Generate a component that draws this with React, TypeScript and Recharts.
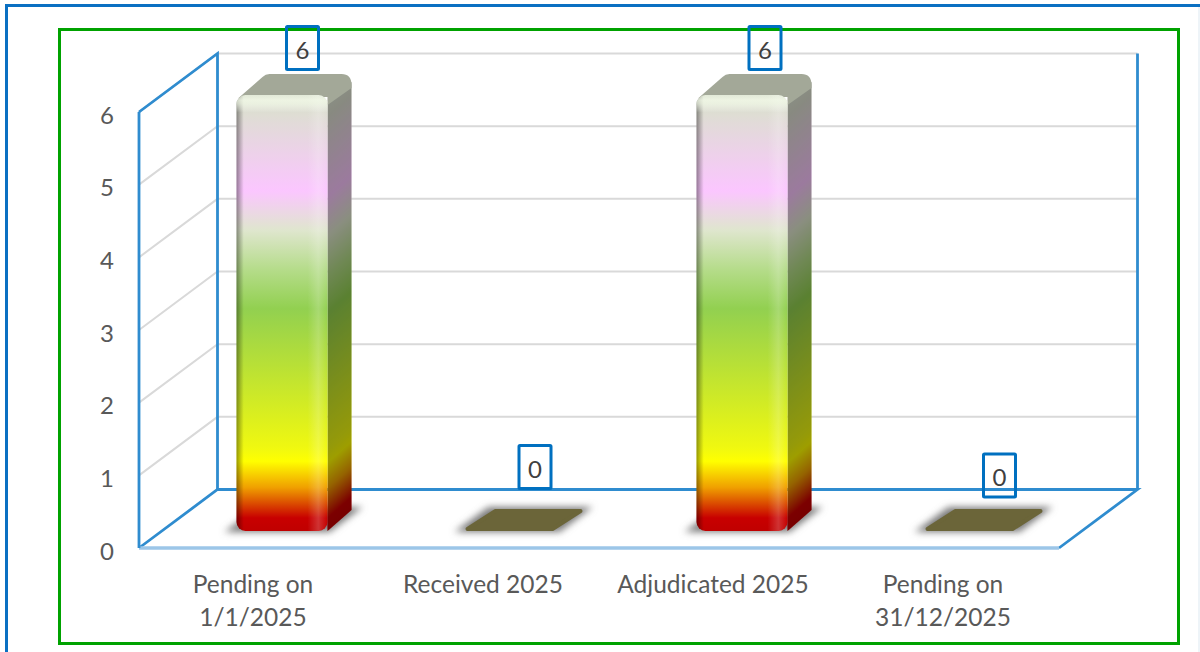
import React from "react";
import {
  Bar,
  CartesianGrid,
  ComposedChart,
  LabelList,
  XAxis,
  YAxis,
} from "recharts";

// Case counts per stage
const categories = [
  "Pending on\n1/1/2025",
  "Received 2025",
  "Adjudicated 2025",
  "Pending on\n31/12/2025",
];
const caseCounts = [6, 0, 6, 0];
const yTicks = [0, 1, 2, 3, 4, 5, 6];

const rows = categories.map((category, i) => ({ category, count: caseCounts[i] }));

// Chart geometry and palette
const WIDTH = 1200;
const HEIGHT = 652;
const FONT = "Lato, Carlito, Calibri, sans-serif";
const TEXT = "#595959";
const WALL_BLUE = "#2f8ccf";
const FLOOR_BLUE = "#9cc6e8";
const GRID = "#d9d9d9";
const WALL = { dx: 78.5, dy: -58.5 };
const BAR = { dx: 27.5, dy: -17, depthX: 24, depthY: 21, size: 91 };

// Colour ramp of the columns, from the cap down to the base
const rampStops: [number, string][] = [
  [0, "#dfe6d4"],
  [0.03, "#dcdfd0"],
  [0.22, "#fbc6ff"],
  [0.31, "#dfe6ce"],
  [0.4, "#b5dc8a"],
  [0.49, "#92d050"],
  [0.81, "#f0f810"],
  [0.84, "#ffff00"],
  [0.9, "#f0a000"],
  [0.97, "#c80000"],
  [1, "#c00000"],
];

// Offsets of the value boxes relative to each column's band centre and value position
const boxOffsets = [
  { dx: 48, dy: -64 },
  { dx: 50.5, dy: -81 },
  { dx: 50.5, dy: -64 },
  { dx: 55, dy: -72.5 },
];

function Column(props: any) {
  const { x, y, height, index } = props;
  const left = x + BAR.dx;
  const right = left + BAR.size;
  const top = y + BAR.dy;
  const base = top + height;
  const { depthX, depthY } = BAR;
  const blurId = `column-shadow-${index}`;

  const shadow = (
    <>
      <defs>
        <filter id={blurId} x="-30%" y="-100%" width="160%" height="300%">
          <feGaussianBlur stdDeviation="3.6" />
        </filter>
      </defs>
      <path
        d={`M${left - 12} ${base + 1}L${left + 22} ${base - 24}L${right + 35} ${base - 24}L${right + 2} ${base + 1}Z`}
        fill="#7a7a7a"
        filter={`url(#${blurId})`}
      />
    </>
  );

  if (height <= 0) {
    return (
      <g>
        {shadow}
        <path
          d={`M${left + 1} ${base - 2}L${left + 29} ${base - 20}L${right + 23} ${base - 20}L${right - 5} ${base - 2}Z`}
          fill="#6b6539"
          stroke="#6b6539"
          strokeWidth={4}
          strokeLinejoin="round"
        />
      </g>
    );
  }

  const rampId = `column-ramp-${index}`;
  const edgeId = `column-edge-${index}`;
  const capId = `column-cap-${index}`;
  const skew = `translate(${right} ${top}) skewY(${(-Math.atan2(depthY, depthX) * 180) / Math.PI})`;

  return (
    <g>
      <defs>
        <linearGradient id={rampId} x1="0" y1="0" x2="0" y2="1">
          {rampStops.map(([at, color]) => (
            <stop key={at} offset={at} stopColor={color} />
          ))}
        </linearGradient>
        <linearGradient id={edgeId} x1="0" y1="0" x2="1" y2="0">
          <stop offset="0" stopColor="#000000" stopOpacity={0.4} />
          <stop offset="0.08" stopColor="#000000" stopOpacity={0} />
          <stop offset="0.78" stopColor="#ffffff" stopOpacity={0} />
          <stop offset="0.9" stopColor="#ffffff" stopOpacity={0.2} />
          <stop offset="1" stopColor="#ffffff" stopOpacity={0} />
        </linearGradient>
        <linearGradient id={capId} x1="0" y1="0" x2="0" y2="1">
          <stop offset="0" stopColor="#f4fbea" stopOpacity={0.15} />
          <stop offset="0.012" stopColor="#f4fbea" stopOpacity={0.7} />
          <stop offset="0.02" stopColor="#f4fbea" stopOpacity={0.6} />
          <stop offset="0.04" stopColor="#ffffff" stopOpacity={0} />
        </linearGradient>
      </defs>
      {shadow}
      <g transform={skew}>
        <rect y={8} width={depthX} height={height - 8} fill={`url(#${rampId})`} />
        <rect y={8} width={depthX} height={height - 8} fill="#000000" fillOpacity={0.38} />
      </g>
      <path
        d={`M${left + 2} ${top + 3}L${left + 26} ${top - 18}Q${left + 29} ${top - 21} ${left + 33} ${top - 21}L${right + depthX - 10} ${top - 21}Q${right + depthX} ${top - 21} ${right + depthX} ${top - 10}L${right + depthX} ${top - 7}L${right} ${top + 10}L${right} ${top + 2}Z`}
        fill="#a3a898"
      />
      <rect x={left} y={top} width={BAR.size} height={height} rx={9} fill={`url(#${rampId})`} />
      <rect x={left} y={top} width={BAR.size} height={height} rx={9} fill={`url(#${edgeId})`} />
      <rect x={left} y={top} width={BAR.size} height={height} rx={9} fill={`url(#${capId})`} />
    </g>
  );
}

function ValueBox(props: any) {
  const { x, y, width, value, index } = props;
  const offset = boxOffsets[index];
  const cx = x + width / 2 + offset.dx;
  const cy = y + offset.dy;
  return (
    <g>
      <rect
        x={cx - 16}
        y={cy - 21.5}
        width={32}
        height={43}
        rx={1}
        fill="none"
        stroke="#0070c0"
        strokeWidth={3}
      />
      <text
        x={cx}
        y={cy + 1}
        textAnchor="middle"
        dominantBaseline="central"
        fontFamily={FONT}
        fontSize={24}
        fill="#404040"
      >
        {value}
      </text>
    </g>
  );
}

// Each horizontal value runs across the side wall and the back wall;
// the lowest and highest ones also carry the outline of the box.
function WallLine(props: any) {
  const { x1, x2, y1, key } = props;
  const isFloor = y1 > HEIGHT * 0.8;
  const isCeiling = y1 < HEIGHT * 0.2;
  const bx1 = x1 + WALL.dx;
  const bx2 = x2 + WALL.dx;
  const by = y1 + WALL.dy;
  return (
    <g key={key}>
      {isFloor ? (
        <path
          d={`M${x1} ${y1}L${bx1} ${by}L${bx2} ${by}L${x2} ${y1}`}
          fill="none"
          stroke={WALL_BLUE}
          strokeWidth={2.8}
        />
      ) : (
        <path d={`M${x1} ${y1}L${bx1} ${by}L${bx2} ${by}`} fill="none" stroke={GRID} strokeWidth={2} />
      )}
      {isCeiling && (
        <>
          <path
            d={`M${x1} ${y1}L${bx1} ${by}L${bx1} ${by + 436}`}
            fill="none"
            stroke={WALL_BLUE}
            strokeWidth={2.8}
          />
          <path d={`M${bx2} ${by}L${bx2} ${by + 436}`} fill="none" stroke={WALL_BLUE} strokeWidth={2.8} />
        </>
      )}
    </g>
  );
}

function CategoryTick(props: any) {
  const { x, y, payload } = props;
  const lines = String(payload.value).split("\n");
  return (
    <text textAnchor="middle" fontFamily={FONT} fontSize={24.5} fill={TEXT}>
      {lines.map((line, i) => (
        <tspan key={line} x={x - 1} y={y + 45 + i * 33}>
          {line}
        </tspan>
      ))}
    </text>
  );
}

function ValueTick(props: any) {
  const { x, y, payload } = props;
  return (
    <text x={x} y={y + 2} textAnchor="end" dominantBaseline="central" fontFamily={FONT} fontSize={24} fill={TEXT}>
      {payload.value}
    </text>
  );
}

function Frame({ style }: { style: React.CSSProperties }) {
  return <div style={{ position: "absolute", boxSizing: "border-box", ...style }} />;
}

export default function App() {
  return (
    <div
      style={{
        position: "absolute",
        left: 0,
        top: 0,
        width: WIDTH,
        height: HEIGHT,
        background: "#ffffff",
        overflow: "hidden",
      }}
    >
      <Frame style={{ left: 5, top: 4, width: 1195, height: 648, borderLeft: "3px solid #0a70c2", borderTop: "3px solid #0a70c2" }} />
      <Frame style={{ left: 1198, top: 7, width: 2, height: 645, background: "#eef4f8" }} />
      <Frame style={{ left: 58, top: 28, width: 1122, height: 617, border: "3px solid #00a200" }} />
      <ComposedChart
        width={WIDTH}
        height={HEIGHT}
        data={rows}
        margin={{ top: 112, right: 141, bottom: 0, left: 0 }}
        style={{ position: "absolute", left: 0, top: 0 }}
      >
        <CartesianGrid horizontal={WallLine} vertical={false} />
        <XAxis
          dataKey="category"
          height={104}
          axisLine={{ stroke: FLOOR_BLUE, strokeWidth: 3.4 }}
          tickLine={false}
          tickSize={0}
          tickMargin={0}
          interval={0}
          tick={CategoryTick}
        />
        <YAxis
          width={139}
          domain={[0, 6]}
          ticks={yTicks}
          axisLine={{ stroke: WALL_BLUE, strokeWidth: 2.8 }}
          tickLine={false}
          tickSize={0}
          tickMargin={25}
          tick={ValueTick}
        />
        <Bar dataKey="count" barSize={BAR.size} shape={Column} isAnimationActive={false}>
          <LabelList dataKey="count" content={ValueBox} />
        </Bar>
      </ComposedChart>
    </div>
  );
}
